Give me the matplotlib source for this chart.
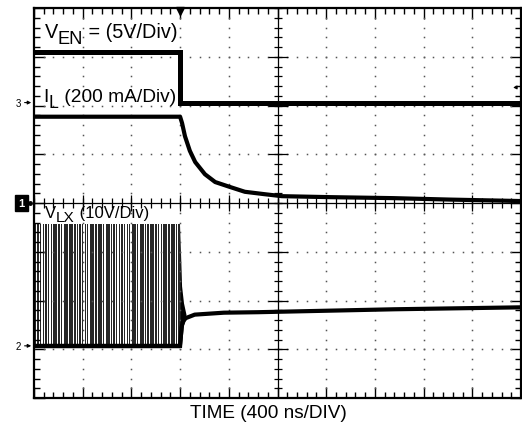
import numpy as np
import matplotlib.pyplot as plt

plt.rcParams['font.family'] = ['Liberation Sans', 'DejaVu Sans']

# 时间轴单位: 格 (10 格, 400 ns/格); 纵轴单位: 格 (8 格)
ven_t = [0, 3.0, 3.0, 10]
ven_v = [7.10, 7.10, 6.06, 6.06]

il_t = [0, 3.00, 3.04, 3.10, 3.20, 3.31, 3.51, 3.72, 4.02, 4.33, 4.74, 5.09, 6.08, 7.37, 8.54, 10.0]
il_v = [5.77, 5.77, 5.64, 5.37, 5.07, 4.84, 4.59, 4.43, 4.33, 4.23, 4.18, 4.14, 4.12, 4.10, 4.07, 4.04]

# LX 开关脉冲 (脉冲时刻, 脉宽)
lx_low = 1.07
lx_high = 3.57
pulse_t = [0.02, 0.07, 0.12, 0.18, 0.23, 0.28, 0.34, 0.39, 0.44, 0.49, 0.56, 0.61, 0.66, 0.72,
           0.77, 0.83, 0.88, 0.93, 0.98, 1.04, 1.09, 1.15, 1.20, 1.25, 1.31, 1.36, 1.41, 1.47,
           1.52, 1.58, 1.63, 1.68, 1.74, 1.79, 1.84, 1.90, 1.95, 2.01, 2.06, 2.11, 2.17, 2.22,
           2.27, 2.33, 2.38, 2.43, 2.49, 2.54, 2.60, 2.65, 2.70, 2.76, 2.81, 2.86, 2.91, 2.96]
pulse_w = [0.03, 0.04, 0.025, 0.035, 0.04, 0.03, 0.025, 0.04, 0.03, 0.035, 0.025, 0.04, 0.03, 0.035,
           0.04, 0.025, 0.03, 0.04, 0.035, 0.03, 0.025, 0.04, 0.03, 0.035, 0.04, 0.03, 0.025, 0.04,
           0.035, 0.03, 0.04, 0.025, 0.035, 0.04, 0.03, 0.035, 0.025, 0.04, 0.03, 0.035, 0.04, 0.03,
           0.025, 0.04, 0.035, 0.03, 0.04, 0.025, 0.035, 0.04, 0.03, 0.035, 0.04, 0.03, 0.035, 0.04]

# 关断后的振铃包络与 LX 电压
ring_t = [2.99, 3.03, 3.07, 3.12]
ring_hi = [3.57, 2.30, 1.95, 1.72]
ring_lo = [1.07, 1.10, 1.50, 1.62]
lx_t = [3.0, 3.03, 3.06, 3.12, 3.3, 3.9, 4.6, 6.0, 7.4, 8.7, 10]
lx_v = [1.07, 1.45, 1.58, 1.64, 1.71, 1.75, 1.76, 1.79, 1.82, 1.84, 1.86]

fig = plt.figure(figsize=(5.22, 4.31), dpi=100)
ax = fig.add_axes([34 / 522, 32 / 431, 487 / 522, 390 / 431])
ax.set_xlim(0, 10)
ax.set_ylim(0, 8)

# 点状网格
minor = np.arange(0, 10.01, 0.2)
minor_y = np.arange(0, 8.01, 0.2)
for gx in [1, 2, 3, 4, 6, 7, 8, 9]:
    ax.plot(np.full(len(minor_y), gx), minor_y, ls='none', marker='s', ms=1.1, color='#555555', mew=0)
for gy in [1, 2, 3, 5, 6, 7]:
    ax.plot(minor, np.full(len(minor), gy), ls='none', marker='s', ms=1.1, color='#555555', mew=0)

# 中心刻度轴
ax.axvline(5, color='black', lw=0.9)
ax.axhline(4, color='black', lw=0.9)
ax.plot(np.full(len(minor_y), 5), minor_y, ls='none', marker='_', ms=6, mew=0.9, color='black')
ax.plot(np.full(9, 5), np.arange(0, 9), ls='none', marker='_', ms=14, mew=0.9, color='black')
ax.plot(minor, np.full(len(minor), 4), ls='none', marker='|', ms=7, mew=0.9, color='black')
ax.plot(np.arange(0, 11), np.full(11, 4), ls='none', marker='|', ms=12, mew=0.9, color='black')

# 波形
ax.bar(pulse_t, lx_high - lx_low, width=pulse_w, bottom=lx_low, align='edge',
       color='#262626', linewidth=0)
ax.plot([0, 3.0], [lx_low, lx_low], color='black', lw=3.2, solid_capstyle='butt')
ax.fill_between(ring_t, ring_lo, ring_hi, color='black', lw=0)
ax.plot(lx_t, lx_v, color='black', lw=3.0)
ax.plot(ven_t, ven_v, color='black', lw=3.6, solid_joinstyle='miter')
ax.plot(il_t, il_v, color='black', lw=3.0)

# 边框与刻度
for s in ax.spines.values():
    s.set_linewidth(1.6)
ax.set_xticks(np.arange(0, 11))
ax.set_yticks(np.arange(0, 9))
ax.set_xticks(minor, minor=True)
ax.set_yticks(minor_y, minor=True)
ax.tick_params(which='both', direction='in', top=True, right=True,
               labelbottom=False, labelleft=False, width=1.0)
ax.tick_params(which='major', length=8)
ax.tick_params(which='minor', length=4.5)

renderer = fig.canvas.get_renderer()


def channel_label(x, y, parts, size=13, drop=6):
    # parts: (文字, 是否下标)，逐段排版，下标几乎与正文同大
    dx = 0
    for txt, sub in parts:
        t = ax.annotate(txt, xy=(x, y), xycoords='data', xytext=(dx, -drop if sub else 0),
                        textcoords='offset pixels', fontsize=size * (0.92 if sub else 1),
                        va='baseline', ha='left')
        dx += t.get_window_extent(renderer).width


channel_label(0.22, 7.40, [('V', False), ('EN', True), (' = (5V/Div)', False)], size=14.3)
channel_label(0.20, 6.09, [('I', False), ('L', True), (' (200 mA/Div)', False)], size=13.8)
channel_label(0.22, 3.71, [('V', False), ('LX', True), (' (10V/Div)', False)], size=12, drop=4)
ax.text(4.82, -0.30, 'TIME (400 ns/DIV)', fontsize=13.7, va='center', ha='center')

# 通道参考标记
ax.text(-0.27, 6.06, '3', fontsize=7, va='center', ha='right', clip_on=False)
ax.annotate('', xy=(0, 6.06), xytext=(-0.25, 6.06), clip_on=False,
            arrowprops=dict(arrowstyle='-|>', lw=0.8, color='black', mutation_scale=5))
ax.text(-0.2, 4.0, '1', fontsize=8, color='white', fontweight='bold', va='center', ha='right',
        clip_on=False, bbox=dict(boxstyle='square,pad=0.3', fc='black', ec='black'))
ax.plot([-0.08], [4.0], marker='o', ms=2.5, color='black', clip_on=False)
ax.text(-0.27, 1.07, '2', fontsize=7, va='center', ha='right', clip_on=False)
ax.annotate('', xy=(0, 1.07), xytext=(-0.25, 1.07), clip_on=False,
            arrowprops=dict(arrowstyle='-|>', lw=0.8, color='black', mutation_scale=5))

# 触发位置与触发电平
ax.plot([3.0], [7.93], marker='v', ms=6, color='black', clip_on=False)
ax.annotate('', xy=(9.78, 6.37), xytext=(9.97, 6.37),
            arrowprops=dict(arrowstyle='-|>', lw=0.8, color='black', mutation_scale=5))

fig.savefig('out.png', dpi=100)
